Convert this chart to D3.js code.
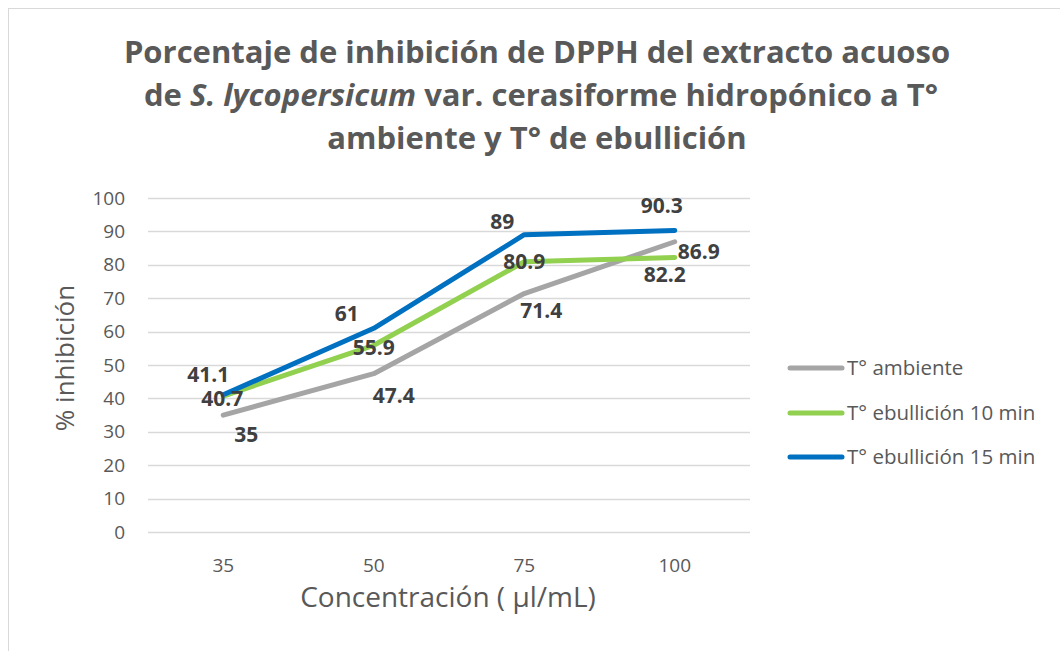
<!DOCTYPE html>
<html>
<head>
<meta charset="utf-8">
<script src="https://cdn.jsdelivr.net/npm/d3@7"></script>
<style>
  body { margin: 0; background: #fff; }
  svg { display: block; }
</style>
</head>
<body>
<div id="container"></div>
<script>
// data
var concentrations = ['35', '50', '75', '100'];
var seriesNames = ['T° ambiente', 'T° ebullición 10 min', 'T° ebullición 15 min'];
var ambiente = [35, 47.4, 71.4, 86.9];
var ebullicion10 = [40.7, 55.9, 80.9, 82.2];
var ebullicion15 = [41.1, 61, 89, 90.3];
var yTicks = [0, 10, 20, 30, 40, 50, 60, 70, 80, 90, 100];

// label offsets (dx, dy) from each point, per series
var labelOffsets = [
    [[23, 19], [20, 22], [17, 17], [24, 10]],
    [[-1, 2], [0, 2], [0, 0], [-10, 17]],
    [[-15, -20], [-27, -15], [-22, -13], [-13, -25]]
];

var width = 1060, height = 651;
var colors = ['#A5A5A5', '#92D050', '#0070C0'];
var textColor = '#595959';
var font = '"Open Sans", sans-serif';

var svg = d3.select('#container').append('svg')
    .attr('width', width)
    .attr('height', height)
    .style('font-family', font);

// chart frame
svg.append('rect')
    .attr('x', 8.5).attr('y', 8.5)
    .attr('width', 1070).attr('height', 670)
    .attr('fill', '#fff')
    .attr('stroke', '#D9D9D9');

// title
var title = svg.append('text')
    .attr('text-anchor', 'middle')
    .attr('fill', textColor)
    .style('font-size', '31px')
    .style('font-weight', 'bold');
title.append('tspan').attr('x', 537).attr('y', 63).text('Porcentaje de inhibición de DPPH del extracto acuoso');
var l2 = title.append('tspan').attr('x', 541).attr('y', 106);
l2.append('tspan').text('de ');
l2.append('tspan').style('font-style', 'italic').text('S. lycopersicum');
l2.append('tspan').text(' var. cerasiforme hidropónico a T°');
title.append('tspan').attr('x', 537).attr('y', 149).text('ambiente y T° de ebullición');

var x = d3.scaleBand()
    .domain(concentrations)
    .range([148, 750]);

var y = d3.scaleLinear()
    .domain([0, 100])
    .range([532, 198]);

// gridlines
svg.append('g')
    .selectAll('line')
    .data(yTicks)
    .enter()
    .append('line')
    .attr('x1', 148).attr('x2', 750)
    .attr('y1', d => Math.round(y(d)) + 0.5)
    .attr('y2', d => Math.round(y(d)) + 0.5)
    .attr('stroke', '#D9D9D9')
    .attr('stroke-width', 1.3);

// y axis
var yAxis = svg.append('g')
    .attr('transform', 'translate(148,0)')
    .call(d3.axisLeft(y).tickValues(yTicks).tickSize(0).tickPadding(23));
yAxis.select('.domain').remove();
yAxis.selectAll('text')
    .attr('fill', textColor)
    .style('font-size', '19px')
    .style('font-family', font);

// x axis
var xAxis = svg.append('g')
    .attr('transform', 'translate(0,532)')
    .call(d3.axisBottom(x).tickSize(0).tickPadding(27));
xAxis.select('.domain').remove();
xAxis.selectAll('text')
    .attr('fill', textColor)
    .style('font-size', '19px')
    .style('font-family', font);

// axis titles
svg.append('text')
    .attr('x', 448).attr('y', 607)
    .attr('text-anchor', 'middle')
    .attr('fill', textColor)
    .style('font-size', '28px')
    .text('Concentración ( µl/mL)');

svg.append('text')
    .attr('transform', 'translate(74,358) rotate(-90)')
    .attr('text-anchor', 'middle')
    .attr('fill', textColor)
    .style('font-size', '26px')
    .text('% inhibición');

var allSeries = [ambiente, ebullicion10, ebullicion15];

var line = d3.line()
    .x((d, i) => x(concentrations[i]) + x.bandwidth() / 2)
    .y(d => y(d));

// lines
svg.append('g')
    .selectAll('path')
    .data(allSeries)
    .enter()
    .append('path')
    .attr('d', d => line(d))
    .attr('fill', 'none')
    .attr('stroke', (d, i) => colors[i])
    .attr('stroke-width', 5)
    .attr('stroke-linecap', 'round')
    .attr('stroke-linejoin', 'round');

// data labels
allSeries.forEach(function (s, si) {
    svg.append('g')
        .selectAll('text')
        .data(s)
        .enter()
        .append('text')
        .attr('x', (d, i) => x(concentrations[i]) + x.bandwidth() / 2 + labelOffsets[si][i][0])
        .attr('y', (d, i) => y(d) + labelOffsets[si][i][1])
        .attr('dy', '0.36em')
        .attr('text-anchor', 'middle')
        .attr('fill', '#404040')
        .style('font-size', '21px')
        .style('font-weight', 'bold')
        .text(d => d);
});

// legend
var legend = svg.append('g')
    .selectAll('g')
    .data(seriesNames)
    .enter()
    .append('g')
    .attr('transform', (d, i) => 'translate(0,' + [368, 413, 457][i] + ')');
legend.append('line')
    .attr('x1', 790).attr('x2', 842)
    .attr('stroke', (d, i) => colors[i])
    .attr('stroke-width', 5)
    .attr('stroke-linecap', 'round');
legend.append('text')
    .attr('x', 847)
    .attr('dy', '0.36em')
    .attr('fill', textColor)
    .style('font-size', '20.5px')
    .text(d => d);
</script>
</body>
</html>
